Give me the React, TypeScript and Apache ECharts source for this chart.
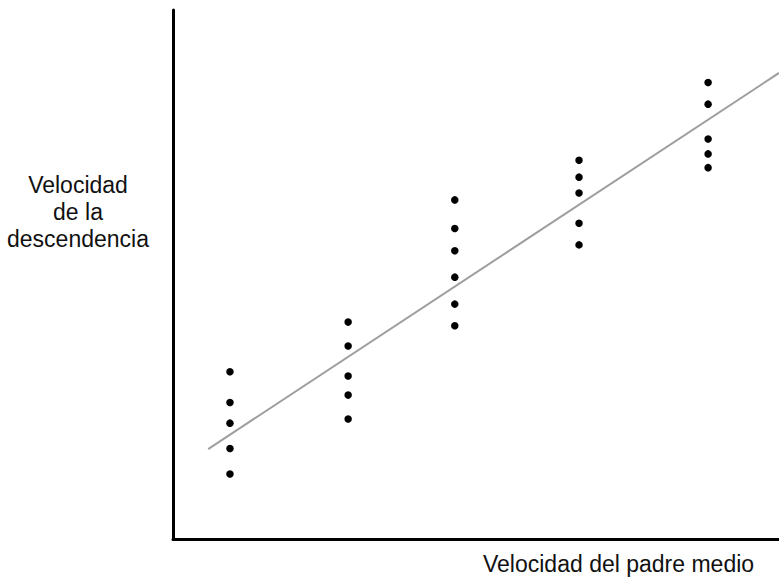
import React, { useEffect, useRef } from "react";
import * as echarts from "echarts";

// Parent speed groups (x) and offspring speeds (y), arbitrary units 0..10
const groupX = [0.94, 2.89, 4.65, 6.7, 8.83];
const group1 = [3.16, 2.58, 2.19, 1.71, 1.23];
const group2 = [4.1, 3.65, 3.08, 2.72, 2.27];
const group3 = [6.41, 5.87, 5.45, 4.95, 4.44, 4.03];
const group4 = [7.16, 6.84, 6.54, 5.97, 5.56];
const group5 = [8.63, 8.22, 7.56, 7.28, 7.02];
const groups = [group1, group2, group3, group4, group5];

// Regression line endpoints
const lineX = [0.58, 10];
const lineY = [1.7, 8.81];

const yTitle = "Velocidad\nde la\ndescendencia";
const xTitle = "Velocidad del padre medio";

export default function App() {
  const ref = useRef<HTMLDivElement>(null);
  useEffect(() => {
    if (!ref.current) return;
    const chart = echarts.init(ref.current, null, { renderer: "svg" });
    const points: number[][] = [];
    groups.forEach((g, i) => g.forEach((v) => points.push([groupX[i], v])));
    chart.setOption({
      animation: false,
      backgroundColor: "#ffffff",
      grid: { left: 173, top: 10, right: 0, bottom: 39, containLabel: false },
      xAxis: {
        type: "value",
        min: 0,
        max: 10,
        axisLine: { show: true, lineStyle: { color: "#000", width: 3 } },
        axisTick: { show: false },
        axisLabel: { show: false },
        splitLine: { show: false },
      },
      yAxis: {
        type: "value",
        min: 0,
        max: 10,
        axisLine: { show: true, lineStyle: { color: "#000", width: 3 } },
        axisTick: { show: false },
        axisLabel: { show: false },
        splitLine: { show: false },
      },
      series: [
        {
          type: "line",
          data: lineX.map((x, i) => [x, lineY[i]]),
          symbol: "none",
          lineStyle: { color: "#9e9e9e", width: 2 },
          z: 1,
        },
        {
          type: "scatter",
          data: points,
          symbol: "circle",
          symbolSize: 7.5,
          itemStyle: { color: "#000", opacity: 1 },
          z: 2,
        },
      ],
      graphic: [
        {
          type: "text",
          x: 78,
          y: 212,
          style: {
            text: yTitle,
            fontFamily: "Liberation Sans, Arial, sans-serif",
            fontSize: 23,
            lineHeight: 27,
            fill: "#111",
            align: "center",
            verticalAlign: "middle",
          },
        },
        {
          type: "text",
          x: 483,
          y: 564,
          style: {
            text: xTitle,
            fontFamily: "Liberation Sans, Arial, sans-serif",
            fontSize: 23,
            fill: "#111",
            align: "left",
            verticalAlign: "middle",
          },
        },
      ],
    });
    return () => chart.dispose();
  }, []);
  return <div ref={ref} style={{ width: 779, height: 578, position: "absolute", left: 0, top: 0 }} />;
}
